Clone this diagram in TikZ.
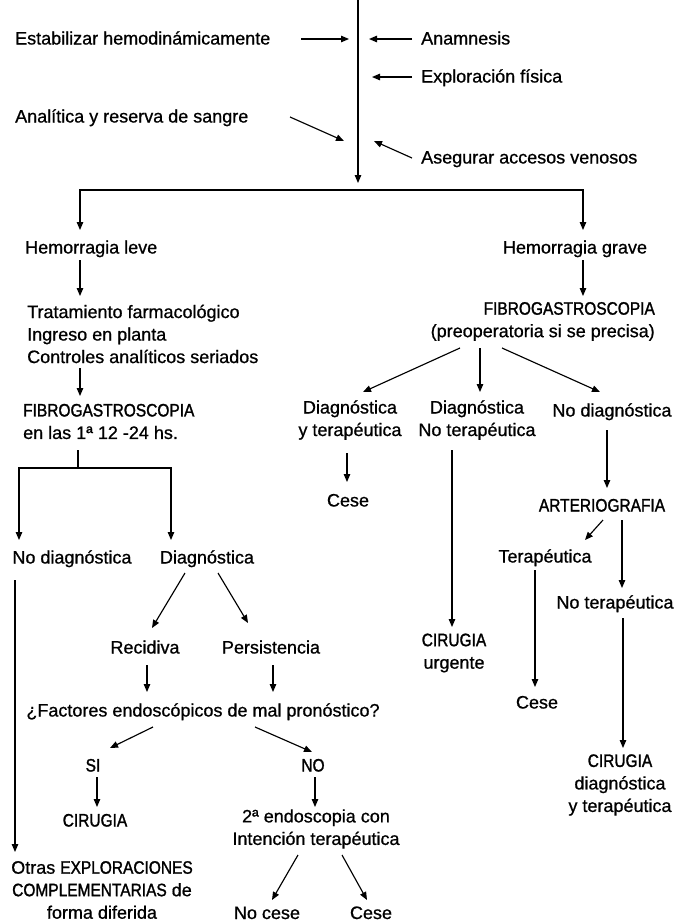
\documentclass[tikz,border=0pt]{standalone}
\usepackage{fontspec}
\setmainfont{Liberation Sans}[FakeBold=0.8]
\newfontfamily\capsfont{Liberation Sans}[FakeStretch=0.86,FakeBold=1.5]
\newcommand{\nc}[1]{{\capsfont #1}}
\usetikzlibrary{arrows.meta}

\begin{document}
\begin{tikzpicture}[x=1pt,y=-1pt,
  every node/.style={inner sep=0pt, align=center, font=\fontsize{18}{22.5}\selectfont},
  ln/.style={line width=1.15pt},
  arr/.style={ln, -{Triangle[length=8pt,width=6.5pt]}},
]
\useasboundingbox (0,0) rectangle (680,922);

% ---------- initial measures ----------
\node[anchor=base west] (estab) at (15,44.5) {Estabilizar hemodinámicamente};
\node[anchor=base west] (anam)  at (421,44.5) {Anamnesis};
\node[anchor=base west] (explo) at (421,82.5) {Exploración física};
\node[anchor=base west] (anal)  at (15,122.5) {Analítica y reserva de sangre};
\node[anchor=base west] (aseg)  at (421,163.5) {Asegurar accesos venosos};

\coordinate (top) at (358,0);
\coordinate (tip) at (358,183);
\draw[arr] (top) -- (tip);

\coordinate (a1) at (301,39);  \coordinate (a2) at (349,39);
\coordinate (b1) at (412,39);  \coordinate (b2) at (369,39);
\coordinate (c1) at (412,77);  \coordinate (c2) at (372,77);
\coordinate (d1) at (290,117); \coordinate (d2) at (344,141);
\coordinate (e1) at (412,158); \coordinate (e2) at (374,141);
\draw[arr] (a1) -- (a2);
\draw[arr] (b1) -- (b2);
\draw[arr] (c1) -- (c2);
\draw[arr] (d1) -- (d2);
\draw[arr] (e1) -- (e2);

% ---------- main split ----------
\coordinate (bmid) at (358,190);
\coordinate (bla) at (80,230);
\coordinate (bra) at (583,230);
\draw[arr] (bmid) -| (bla);
\draw[arr] (bmid) -| (bra);

% ---------- mild bleeding ----------
\node[anchor=base west] (hleve) at (25,253.5) {Hemorragia leve};
\node[anchor=west, align=left] (trat) at (27,334)
  {Tratamiento farmacológico\\Ingreso en planta\\Controles analíticos seriados};
\node[anchor=west, align=left] (fibroL) at (23,421.5)
  {\nc{FIBROGASTROSCOPIA}\\en las 1ª 12 -24 hs.};
\coordinate (f1) at (80,260); \coordinate (f2) at (80,296);
\coordinate (g1) at (80,368); \coordinate (g2) at (80,396);
\draw[arr] (f1) -- (f2);
\draw[arr] (g1) -- (g2);

\coordinate (l0) at (78,450);
\coordinate (l1) at (19,468); \coordinate (l2) at (19,540);
\coordinate (l3) at (171,468); \coordinate (l4) at (171,540);
\draw[arr] (l0) |- (l1) -- (l2);
\draw[arr] (l0) |- (l3) -- (l4);

\node[anchor=base] (nodiagL) at (72,563.5) {No diagnóstica};
\node[anchor=base] (diagL)   at (207,563.5) {Diagnóstica};

\coordinate (m1) at (15,580); \coordinate (m2) at (15,852);
\draw[arr] (m1) -- (m2);
\node (otras) at (102,890)
  {Otras \nc{EXPLORACIONES}\\\nc{COMPLEMENTARIAS} de\\forma diferida};

\coordinate (n1) at (185,573); \coordinate (n2) at (152,628);
\coordinate (o1) at (218,573); \coordinate (o2) at (248,623);
\draw[arr] (n1) -- (n2);
\draw[arr] (o1) -- (o2);

\node[anchor=base] (recid)   at (145,653.5) {Recidiva};
\node[anchor=base] (persist) at (271,653.5) {Persistencia};
\coordinate (p1) at (147,665); \coordinate (p2) at (147,692);
\coordinate (q1) at (273,665); \coordinate (q2) at (273,692);
\draw[arr] (p1) -- (p2);
\draw[arr] (q1) -- (q2);

\node[anchor=base] (factores) at (203,716.5) {¿Factores endoscópicos de mal pronóstico?};
\coordinate (r1) at (153,727); \coordinate (r2) at (110,748);
\coordinate (s1) at (255,727); \coordinate (s2) at (312,752);
\draw[arr] (r1) -- (r2);
\draw[arr] (s1) -- (s2);

\node[anchor=base] (si) at (93,771.5) {\nc{SI}};
\node[anchor=base] (no) at (313,771.5) {\nc{NO}};
\coordinate (t1) at (97,777);  \coordinate (t2) at (97,807);
\coordinate (u1) at (315,777); \coordinate (u2) at (315,807);
\draw[arr] (t1) -- (t2);
\draw[arr] (u1) -- (u2);

\node[anchor=base] (cirL) at (95,826.5) {\nc{CIRUGIA}};
\node (endo2) at (316,829) {2ª endoscopia con\\Intención terapéutica};
\coordinate (v1) at (298,855); \coordinate (v2) at (272,900);
\coordinate (w1) at (342,855); \coordinate (w2) at (367,900);
\draw[arr] (v1) -- (v2);
\draw[arr] (w1) -- (w2);
\node[anchor=base] (nocese) at (267,919) {No cese};
\node[anchor=base] (ceseL)  at (371,919) {Cese};

% ---------- severe bleeding ----------
\node[anchor=base] (hgrave) at (575,253.5) {Hemorragia grave};
\coordinate (h1) at (583,260); \coordinate (h2) at (583,296);
\draw[arr] (h1) -- (h2);
\node[anchor=east, align=right] (fibroR) at (655,321.5)
  {\nc{FIBROGASTROSCOPIA}\\(preoperatoria si se precisa)};

\coordinate (i1) at (460,348); \coordinate (i2) at (363,392);
\coordinate (j1) at (480,348); \coordinate (j2) at (480,392);
\coordinate (k1) at (502,348); \coordinate (k2) at (600,392);
\draw[arr] (i1) -- (i2);
\draw[arr] (j1) -- (j2);
\draw[arr] (k1) -- (k2);

\node (dyt) at (350,420) {Diagnóstica\\y terapéutica};
\node (dnt) at (477,420) {Diagnóstica\\No terapéutica};
\node[anchor=base] (nodiagR) at (612,416.5) {No diagnóstica};

\coordinate (x1) at (347,453); \coordinate (x2) at (347,482);
\draw[arr] (x1) -- (x2);
\node[anchor=base] (ceseR1) at (348,506.5) {Cese};

\coordinate (y1) at (452,450); \coordinate (y2) at (452,627);
\draw[arr] (y1) -- (y2);
\node (cirU) at (454,653) {\nc{CIRUGIA}\\urgente};

\coordinate (z1) at (607,430); \coordinate (z2) at (607,488);
\draw[arr] (z1) -- (z2);
\node[anchor=base] (arterio) at (602,511.5) {\nc{ARTERIOGRAFIA}};

\coordinate (aa1) at (603,520); \coordinate (aa2) at (585,540);
\coordinate (bb1) at (622,520); \coordinate (bb2) at (622,588);
\draw[arr] (aa1) -- (aa2);
\draw[arr] (bb1) -- (bb2);
\node[anchor=base] (terap)   at (545,562.5) {Terapéutica};
\node[anchor=base] (noterap) at (615,608.5) {No terapéutica};

\coordinate (cc1) at (535,570); \coordinate (cc2) at (535,687);
\draw[arr] (cc1) -- (cc2);
\node[anchor=base] (ceseR2) at (537,708.5) {Cese};

\coordinate (dd1) at (623,618); \coordinate (dd2) at (623,748);
\draw[arr] (dd1) -- (dd2);
\node (cirDT) at (620,785) {\nc{CIRUGIA}\\diagnóstica\\y terapéutica};

\end{tikzpicture}
\end{document}
